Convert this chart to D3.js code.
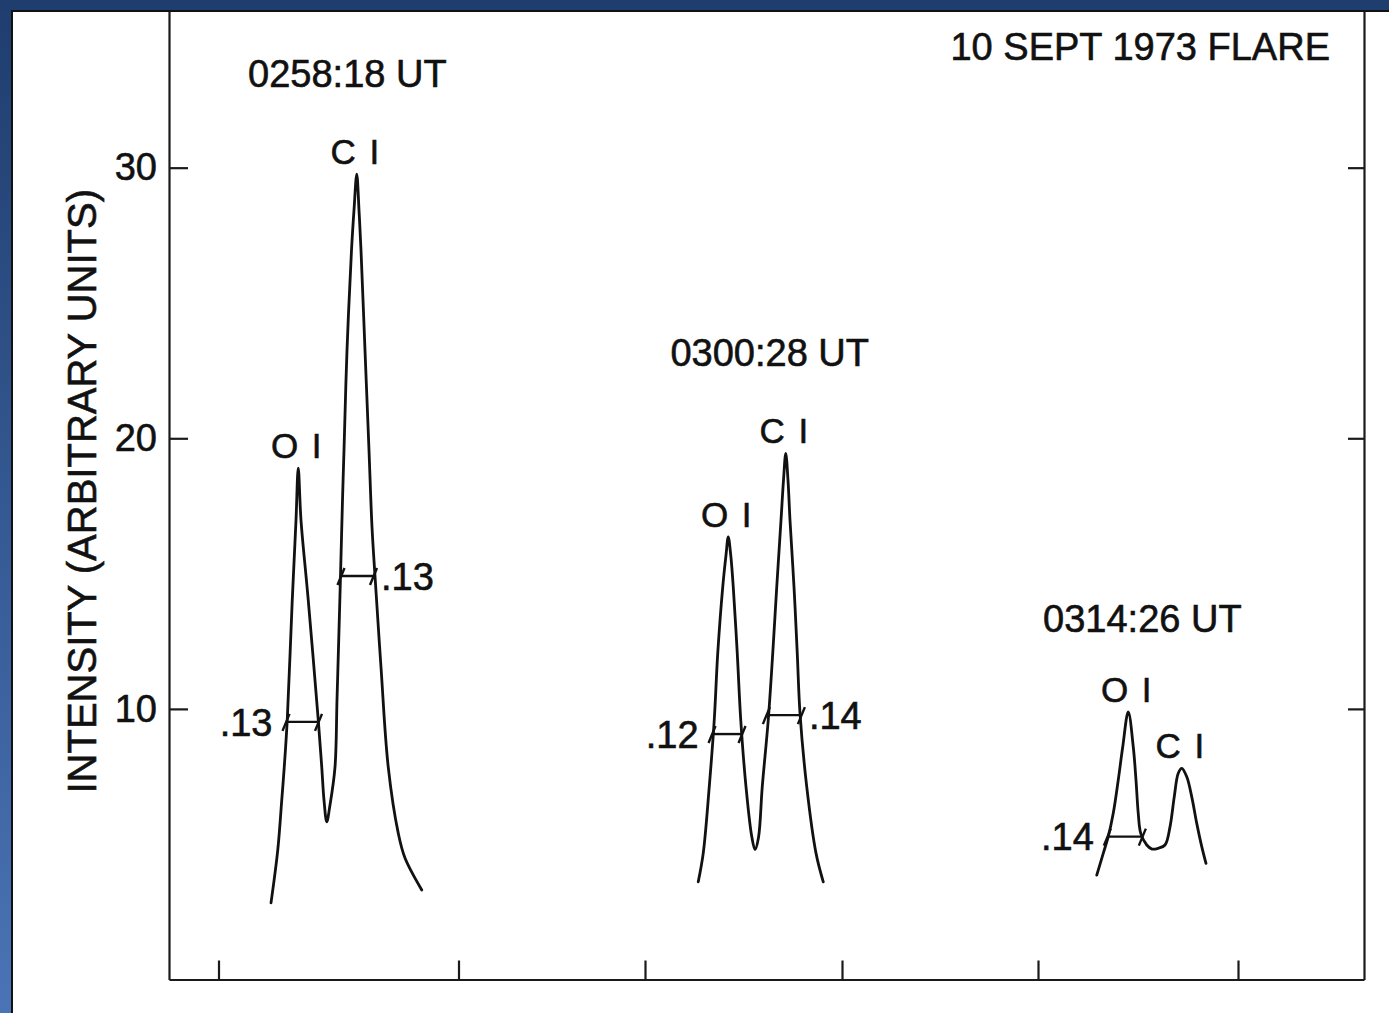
<!DOCTYPE html>
<html>
<head>
<meta charset="utf-8">
<script src="https://cdn.jsdelivr.net/npm/d3@7"></script>
<style>
  html, body { margin: 0; padding: 0; background: #1d3a6a; }
  svg { display: block; }
  text { font-family: "Liberation Sans", Arial, Helvetica, sans-serif; fill: #111;
         stroke: #111; stroke-width: 0.6px; }
</style>
</head>
<body>
<svg id="chart" width="1389" height="1013"></svg>
<script>
// ---- data -------------------------------------------------------------
const chartTitle = "10 SEPT 1973 FLARE";
const yTitle = "INTENSITY (ARBITRARY UNITS)";
const yTicks = [10, 20, 30];
// scan positions of the lower tick marks (Å along the scan)
const xTicks = [0.198, 1.158, 1.904, 2.692, 3.476, 4.276];

// line profiles: [wavelength along scan (Å), intensity]
const scan1 = [
  [0.408, 2.83], [0.435, 4.78], [0.451, 6.63], [0.461, 7.85], [0.473, 9.59],
  [0.493, 14.02], [0.508, 16.97], [0.517, 18.90], [0.528, 16.97], [0.557, 14.02],
  [0.597, 9.59], [0.611, 7.85], [0.620, 6.63], [0.631, 5.83], [0.644, 6.45],
  [0.664, 7.85], [0.672, 10.33], [0.680, 12.91], [0.686, 14.91], [0.694, 17.71],
  [0.700, 19.56], [0.712, 23.25], [0.730, 26.95], [0.740, 28.43], [0.751, 29.76],
  [0.760, 28.43], [0.768, 26.95], [0.784, 23.25], [0.800, 19.56], [0.812, 16.72],
  [0.824, 14.91], [0.848, 11.54], [0.877, 7.85], [0.917, 5.41], [0.944, 4.49],
  [1.011, 3.31]
];
const scan2 = [
  [2.117, 3.61], [2.137, 4.67], [2.161, 7.12], [2.181, 9.59], [2.195, 12.06],
  [2.215, 14.51], [2.228, 15.68], [2.237, 16.36], [2.247, 15.68], [2.257, 14.51],
  [2.273, 12.06], [2.287, 9.59], [2.308, 7.12], [2.331, 5.28], [2.344, 4.80],
  [2.358, 5.25], [2.373, 7.12], [2.397, 9.59], [2.415, 12.06], [2.431, 14.51],
  [2.448, 16.97], [2.458, 18.45], [2.467, 19.44], [2.476, 18.45], [2.484, 16.97],
  [2.500, 14.51], [2.513, 12.06], [2.524, 9.84], [2.551, 7.12], [2.588, 4.67],
  [2.617, 3.61]
];
const scan3 = [
  [3.711, 3.86], [3.737, 4.66], [3.757, 5.28], [3.777, 6.14], [3.797, 7.37],
  [3.815, 8.60], [3.837, 9.89], [3.857, 8.60], [3.868, 7.37], [3.877, 6.14],
  [3.887, 5.40], [3.911, 4.97], [3.932, 4.82], [3.957, 4.85], [3.984, 4.97],
  [4.004, 5.64], [4.021, 6.75], [4.037, 7.62], [4.051, 7.80], [4.071, 7.49],
  [4.091, 6.75], [4.111, 5.77], [4.131, 4.91], [4.148, 4.29]
];
const scanTimes = ["0258:18 UT", "0300:28 UT", "0314:26 UT"];
const lineNames = ["O I", "C I"];

// measured line widths (Å): which scan, which line, width, intensity level
const widthScan  = [0, 0, 1, 1, 2];
const widthLine  = [0, 1, 0, 1, 0];
const widthValue = [0.13, 0.13, 0.12, 0.14, 0.14];
const widthLevel = [9.52, 14.91, 9.07, 9.77, 5.28];

// ---- drawing ----------------------------------------------------------
const W = 1389, H = 1013;
const svg = d3.select("#chart");

const defs = svg.append("defs");
const grad = defs.append("linearGradient").attr("id", "frameFill")
  .attr("x1", 0).attr("y1", 0).attr("x2", 0).attr("y2", 1);
grad.append("stop").attr("offset", "0%").attr("stop-color", "#1f3d6e");
grad.append("stop").attr("offset", "100%").attr("stop-color", "#4a74b6");

svg.append("rect").attr("width", W).attr("height", H).attr("fill", "url(#frameFill)");
svg.append("rect").attr("width", W).attr("height", 12).attr("fill", "#1f3d6e");
svg.append("rect").attr("x", 12).attr("y", 11).attr("width", W - 11).attr("height", H - 10)
  .attr("fill", "#fff").attr("stroke", "#111").attr("stroke-width", 2);

const plotLeft = 169, plotRight = 1364, plotBottom = 979.5, plotTop = 11;
const x = d3.scaleLinear().domain([0, 4.78]).range([plotLeft, plotRight]);
const y = d3.scaleLinear().domain([0, 35.79]).range([plotBottom, plotTop]);

function styleAxis(g) {
  g.attr("font-size", null).attr("font-family", null);
  g.selectAll("path, line").attr("stroke", "#1a1a1a").attr("stroke-width", 2.2);
}

// left axis with labels, ticks pointing inward
svg.append("g").attr("transform", `translate(${plotLeft},0)`)
  .call(d3.axisLeft(y).tickValues(yTicks).tickSize(-19).tickSizeOuter(0)
    .tickPadding(12).tickFormat(d3.format("d")))
  .call(styleAxis)
  .call(g => g.selectAll("text").style("font-size", "38px").attr("fill", "#111"));

// right axis, ticks only
svg.append("g").attr("transform", `translate(${plotRight},0)`)
  .call(d3.axisRight(y).tickValues(yTicks).tickSize(-16).tickSizeOuter(0).tickFormat(""))
  .call(styleAxis);

// bottom axis, ticks only
svg.append("g").attr("transform", `translate(0,${plotBottom})`)
  .call(d3.axisBottom(x).tickValues(xTicks).tickSize(-19).tickSizeOuter(0).tickFormat(""))
  .call(styleAxis);

// axis title
svg.append("text")
  .attr("transform", `translate(82,${(y(0) + y(35.79)) / 2 - 4}) rotate(-90)`)
  .attr("text-anchor", "middle").attr("dy", "0.35em")
  .style("font-size", "40px").text(yTitle);

// chart title
svg.append("text").attr("x", 1330).attr("y", 60).attr("text-anchor", "end")
  .style("font-size", "38px").text(chartTitle);

const scans = [scan1, scan2, scan3];
const line = d3.line().x(d => x(d[0])).y(d => y(d[1])).curve(d3.curveCatmullRom.alpha(0.5));

function peaksOf(s) {
  const idx = [];
  for (let i = 1; i < s.length - 1; i++) {
    if (s[i][1] > s[i - 1][1] && s[i][1] > s[i + 1][1]) idx.push(i);
  }
  return idx;
}
const scanPeaks = scans.map(peaksOf);

const timeDx = [1, 9, -9];
const timeDy = [-87, -87, -80];

scans.forEach((s, k) => {
  svg.append("path").datum(s).attr("d", line)
    .attr("fill", "none").attr("stroke", "#111").attr("stroke-width", 2.8)
    .attr("stroke-linejoin", "round").attr("stroke-linecap", "round");

  scanPeaks[k].forEach((pi, j) => {
    svg.append("text")
      .attr("x", x(s[pi][0]) - 2).attr("y", y(s[pi][1]) - 10)
      .attr("text-anchor", "middle").style("font-size", "35px")
      .style("word-spacing", "4px").text(lineNames[j]);
  });

  const highest = d3.max(s, d => d[1]);
  const cx = (x(s[0][0]) + x(s[s.length - 1][0])) / 2;
  svg.append("text")
    .attr("x", cx + timeDx[k]).attr("y", y(highest) + timeDy[k])
    .attr("text-anchor", "middle").style("font-size", "38px").text(scanTimes[k]);
});

// crossing of a profile with an intensity level, walking away from a peak
function crossing(s, from, level, step) {
  let i = from;
  while (i + step >= 0 && i + step < s.length && s[i + step][1] > level) i += step;
  const a = s[i], b = s[Math.min(Math.max(i + step, 0), s.length - 1)];
  const t = (a[1] - level) / (a[1] - b[1] || 1);
  return a[0] + (b[0] - a[0]) * t;
}

widthValue.forEach((w, k) => {
  const s = scans[widthScan[k]];
  const pi = scanPeaks[widthScan[k]][widthLine[k]];
  const lvl = widthLevel[k];
  const mid = (crossing(s, pi, lvl, -1) + crossing(s, pi, lvl, 1)) / 2;
  const x0 = x(mid - w / 2), x1 = x(mid + w / 2), yy = y(lvl);
  const g = svg.append("g").attr("stroke", "#111").attr("stroke-width", 2.4);
  g.append("line").attr("x1", x0).attr("x2", x1).attr("y1", yy).attr("y2", yy);
  [x0, x1].forEach(xe => {
    g.append("line").attr("x1", xe - 4).attr("y1", yy + 9).attr("x2", xe + 3).attr("y2", yy - 8);
  });
  const onLeft = widthLine[k] === 0;
  svg.append("text")
    .attr("x", onLeft ? x0 - 14 : x1 + 7).attr("y", yy).attr("dy", "0.36em")
    .attr("text-anchor", onLeft ? "end" : "start")
    .style("font-size", "38px").text(String(w).replace(/^0/, ""));
});
</script>
</body>
</html>
